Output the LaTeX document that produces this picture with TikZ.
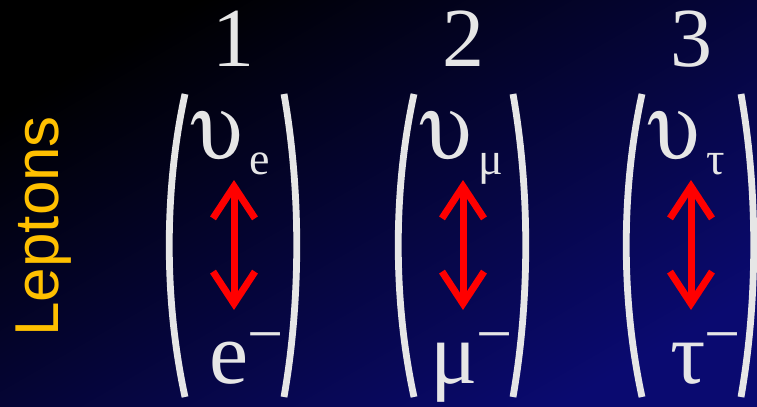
\documentclass[tikz,border=0pt]{standalone}
\usepackage{fontspec}
\usepackage[Symbol]{upgreek}
\setmainfont{Liberation Serif}
\newfontfamily\leptonfont{Liberation Sans}
\usetikzlibrary{arrows.meta}
\definecolor{navyend}{RGB}{10,10,112}
\definecolor{chalk}{RGB}{230,230,230}
\definecolor{gold}{RGB}{255,192,0}
\tikzset{
  paren/.style={draw=chalk,line width=3.4pt},
  flip/.style={draw=red,line width=3.5pt,{Straight Barb[length=16pt,width=21pt]}-{Straight Barb[length=16pt,width=21pt]}},
  gen/.style={text=chalk,inner sep=0pt,anchor=base,text depth=0pt,font=\fontsize{42}{42}\selectfont},
  nu/.style={text=chalk,inner sep=0pt,anchor=base,text height=25pt,text depth=0pt,font=\fontsize{46}{46}\selectfont},
  sub/.style={text=chalk,inner sep=0pt,anchor=base west,font=\fontsize{23}{23}\selectfont},
  low/.style={text=chalk,inner sep=0pt,anchor=base east,font=\fontsize{44}{44}\selectfont},
  neg/.style={text=chalk,inner sep=0pt,anchor=base west,font=\fontsize{32}{32}\selectfont},
  leptons/.style={text=gold,inner sep=0pt,anchor=base west,rotate=90,font=\leptonfont\fontsize{31}{31}\selectfont}
}
\begin{document}
\begin{tikzpicture}[x=0.5pt,y=-0.5pt]
  \shade[top color=black,bottom color=navyend,shading angle=30] (0,0) rectangle (757,407);
  \useasboundingbox (0,0) rectangle (757,407);
  \node[leptons] (lep) at (58,337) {Leptons};
  \foreach \c/\n/\f [count=\i] in {234/1/e,463/2/μ,691/3/τ}{
    \node[gen] (gen\i) at (\c,67) {\n};
    \node[nu] (nu\i) at (\c-17,158) {$\upupsilon$};
    \node[sub] (sub\i) at (\c+15,175) {\f};
    \node[low] (low\i) at (\c+15,383) {\f};
    \node[neg] (neg\i) at (\c+13,355) {−};
    \coordinate (up\i) at (\c,180);
    \coordinate (dn\i) at (\c,310);
    \draw[flip] (up\i) -- (dn\i);
    \draw[paren] (\c-49,94) .. controls (\c-70,190) and (\c-70,300) .. (\c-49,397);
    \draw[paren] (\c+50,94) .. controls (\c+67,190) and (\c+67,300) .. (\c+50,397);
  }
\end{tikzpicture}
\end{document}
